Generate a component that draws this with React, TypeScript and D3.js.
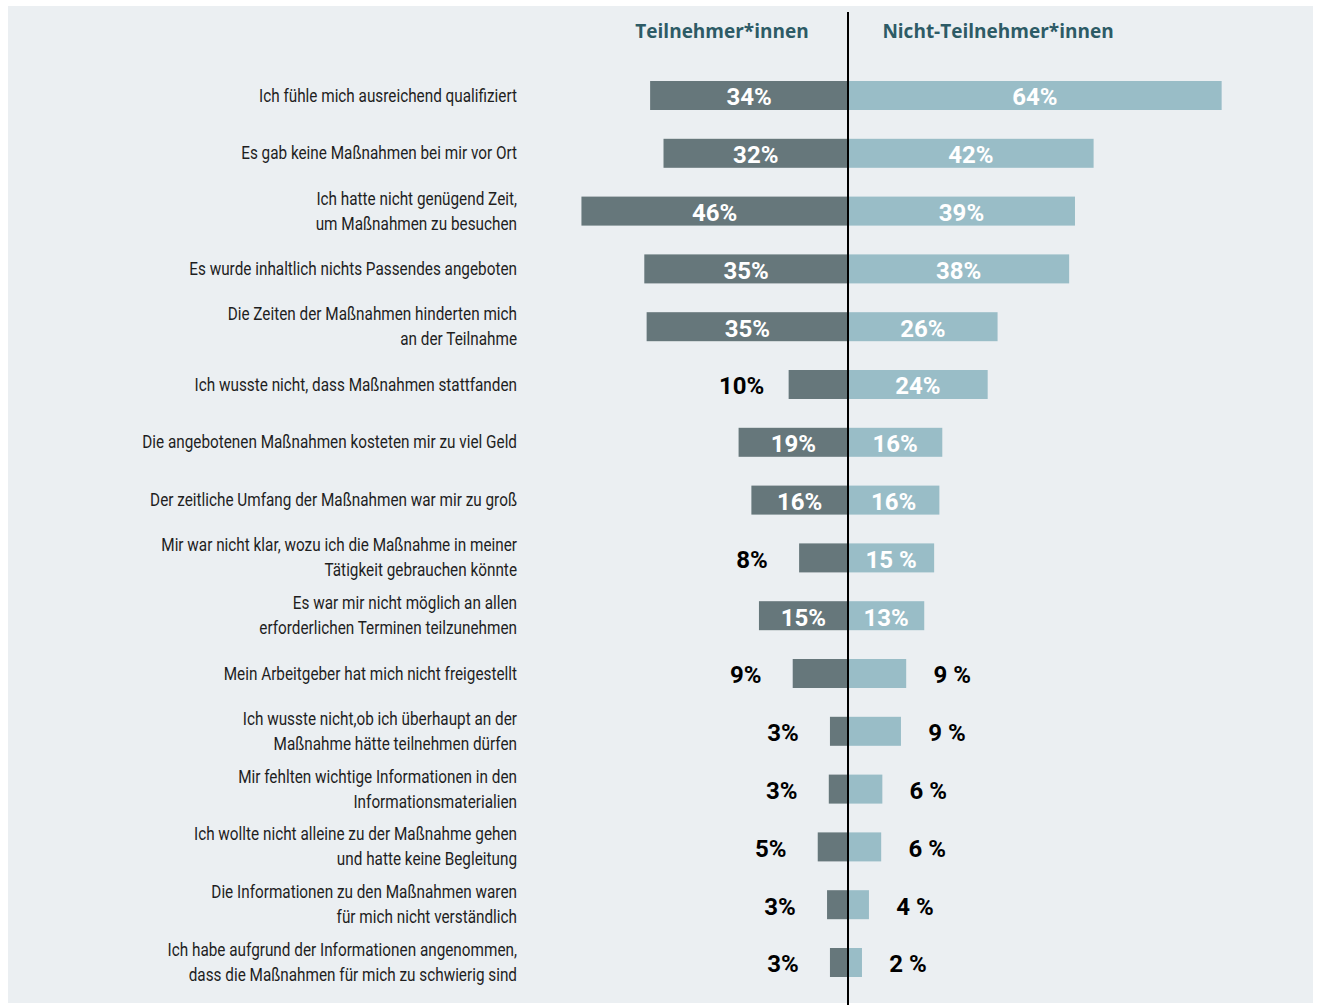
import React from "react";
import * as d3 from "d3";

const categories: string[] = [
  "Ich fühle mich ausreichend qualifiziert",
  "Es gab keine Maßnahmen bei mir vor Ort",
  "Ich hatte nicht genügend Zeit,\num Maßnahmen zu besuchen",
  "Es wurde inhaltlich nichts Passendes angeboten",
  "Die Zeiten der Maßnahmen hinderten mich\nan der Teilnahme",
  "Ich wusste nicht, dass Maßnahmen stattfanden",
  "Die angebotenen Maßnahmen kosteten mir zu viel Geld",
  "Der zeitliche Umfang der Maßnahmen war mir zu groß",
  "Mir war nicht klar, wozu ich die Maßnahme in meiner\nTätigkeit gebrauchen könnte",
  "Es war mir nicht möglich an allen\nerforderlichen Terminen teilzunehmen",
  "Mein Arbeitgeber hat mich nicht freigestellt",
  "Ich wusste nicht,ob ich überhaupt an der\nMaßnahme hätte teilnehmen dürfen",
  "Mir fehlten wichtige Informationen in den\nInformationsmaterialien",
  "Ich wollte nicht alleine zu der Maßnahme gehen\nund hatte keine Begleitung",
  "Die Informationen zu den Maßnahmen waren\nfür mich nicht verständlich",
  "Ich habe aufgrund der Informationen angenommen,\ndass die Maßnahmen für mich zu schwierig sind",
];

const participants: number[] = [34, 31.7, 45.8, 35, 34.6, 10.2, 18.8, 16.6, 8.4, 15.3, 9.5, 3.1, 3.3, 5.2, 3.6, 3.1];
const nonParticipants: number[] = [64.2, 42.2, 39, 38, 25.7, 24, 16.2, 15.7, 14.8, 13.1, 10, 9.1, 5.9, 5.7, 3.6, 2.4];

const participantLabels: string[] = ["34%", "32%", "46%", "35%", "35%", "10%", "19%", "16%", "8%", "15%", "9%", "3%", "3%", "5%", "3%", "3%"];
const nonParticipantLabels: string[] = ["64%", "42%", "39%", "38%", "26%", "24%", "16%", "16%", "15 %", "13%", "9 %", "9 %", "6 %", "6 %", "4 %", "2 %"];

const seriesNames: string[] = ["Teilnehmer*innen", "Nicht-Teilnehmer*innen"];

export default function App() {
  const W = 1317;
  const H = 1005;
  const cx = 848;
  const x = d3.scaleLinear().domain([0, 100]).range([0, 582]);
  const y = d3.scalePoint<number>().domain(d3.range(categories.length)).range([95.5, 962.5]);
  const barH = 29;
  const leftColor = "#66777b";
  const rightColor = "#99bdc7";
  const labelFont = "Roboto, 'Liberation Sans', Arial, sans-serif";
  const threshold = 12;

  return (
    <svg width={W} height={H} style={{ position: "absolute", left: 0, top: 0 }}>
      <rect x={8} y={6} width={1305} height={997} fill="#ebeff2" />
      <text x={722} y={38} textAnchor="middle" fontFamily="'Open Sans', sans-serif" fontWeight={700} fontSize={19} fill="#2d5b66">
        {seriesNames[0]}
      </text>
      <text x={998} y={38} textAnchor="middle" fontFamily="'Open Sans', sans-serif" fontWeight={700} fontSize={19} fill="#2d5b66">
        {seriesNames[1]}
      </text>
      {categories.map((cat, i) => {
        const cy = y(i) as number;
        const lines = cat.split("\n");
        const lw = x(participants[i]);
        const rw = x(nonParticipants[i]);
        const leftInside = participants[i] >= threshold;
        const rightInside = nonParticipants[i] >= threshold;
        return (
          <g key={i}>
            <g transform={`translate(517,${cy}) scale(0.875,1)`}>
              {lines.map((ln, j) => {
                const dy = lines.length === 1 ? 6 : (j === 0 ? -12.5 + 6 : 12.5 + 6);
                return (
                  <text key={j} x={0} y={dy} textAnchor="end" fontFamily={labelFont} fontSize={17.5} fill="#1e1e1e">
                    {ln}
                  </text>
                );
              })}
            </g>
            <rect x={cx - lw} y={cy - barH / 2} width={lw} height={barH} fill={leftColor} />
            <rect x={cx} y={cy - barH / 2} width={rw} height={barH} fill={rightColor} />
            <text
              x={leftInside ? cx - lw / 2 : cx - lw - 47}
              y={cy + 9.8}
              textAnchor="middle"
              fontFamily={labelFont}
              fontWeight={700}
              fontSize={24}
              fill={leftInside ? "#ffffff" : "#000000"}
            >
              {participantLabels[i]}
            </text>
            <text
              x={rightInside ? cx + rw / 2 : cx + rw + 46}
              y={cy + 9.8}
              textAnchor="middle"
              fontFamily={labelFont}
              fontWeight={700}
              fontSize={24}
              fill={rightInside ? "#ffffff" : "#000000"}
            >
              {nonParticipantLabels[i]}
            </text>
          </g>
        );
      })}
      <line x1={cx} x2={cx} y1={12} y2={H} stroke="#000" strokeWidth={2} />
    </svg>
  );
}
